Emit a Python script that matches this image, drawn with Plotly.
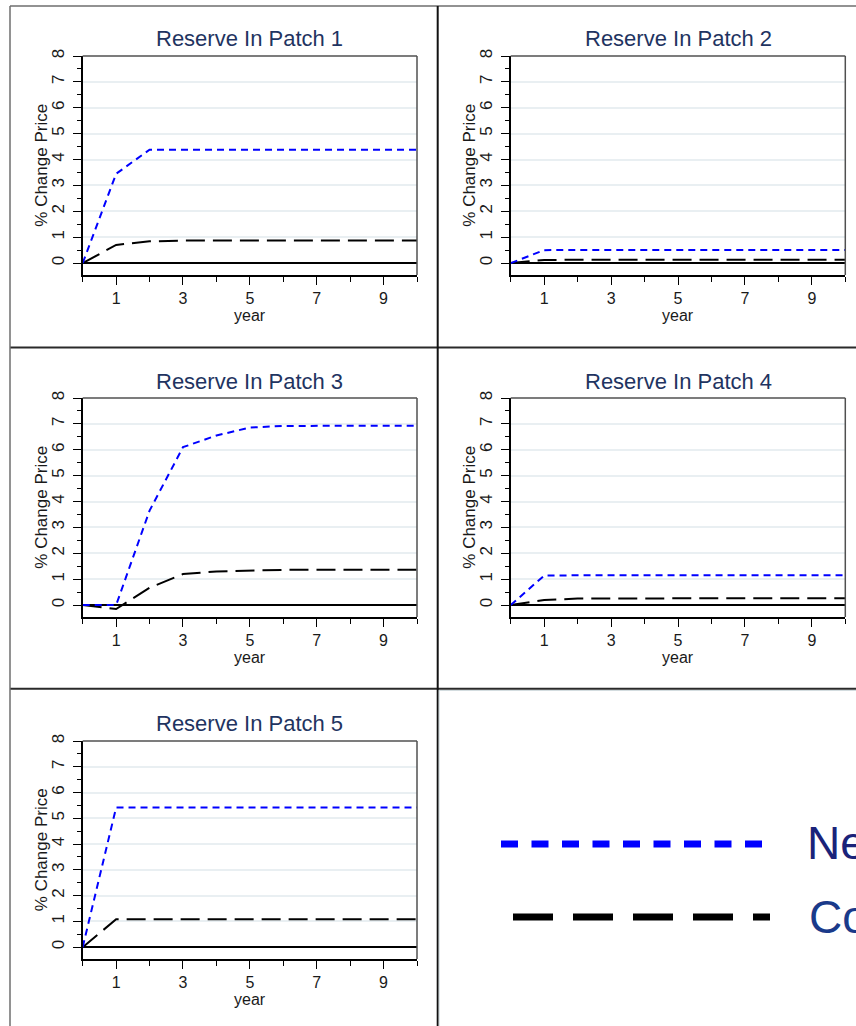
import plotly.graph_objects as go

# ---------------- data ----------------
years = [0, 1, 2, 3, 4, 5, 6, 7, 8, 9, 10]

panel_titles = ["Reserve In Patch 1", "Reserve In Patch 2", "Reserve In Patch 3",
                "Reserve In Patch 4", "Reserve In Patch 5"]

blue_p1 = [0, 3.45, 4.38, 4.38, 4.38, 4.38, 4.38, 4.38, 4.38, 4.38, 4.38]
black_p1 = [0, 0.70, 0.84, 0.87, 0.87, 0.87, 0.87, 0.87, 0.87, 0.87, 0.87]

blue_p2 = [0, 0.50, 0.51, 0.51, 0.51, 0.51, 0.51, 0.51, 0.51, 0.51, 0.51]
black_p2 = [0, 0.12, 0.13, 0.13, 0.13, 0.13, 0.13, 0.13, 0.13, 0.13, 0.13]

blue_p3 = [0, 0.0, 3.65, 6.10, 6.55, 6.86, 6.92, 6.93, 6.93, 6.93, 6.93]
black_p3 = [0, -0.15, 0.67, 1.20, 1.30, 1.34, 1.36, 1.37, 1.37, 1.37, 1.37]

blue_p4 = [0, 1.14, 1.15, 1.15, 1.15, 1.15, 1.15, 1.15, 1.15, 1.15, 1.15]
black_p4 = [0, 0.20, 0.25, 0.26, 0.26, 0.26, 0.26, 0.26, 0.26, 0.26, 0.26]

blue_p5 = [0, 5.42, 5.42, 5.42, 5.42, 5.42, 5.42, 5.42, 5.42, 5.42, 5.42]
black_p5 = [0, 1.08, 1.08, 1.08, 1.08, 1.08, 1.08, 1.08, 1.08, 1.08, 1.08]

blue_series = [blue_p1, blue_p2, blue_p3, blue_p4, blue_p5]
black_series = [black_p1, black_p2, black_p3, black_p4, black_p5]

y_tick_vals = [0, 1, 2, 3, 4, 5, 6, 7, 8]
x_tick_vals = [1, 3, 5, 7, 9]
y_title = "% Change Price"
x_title = "year"
legend_labels = ["Ne", "Co"]

# ---------------- layout helpers ----------------
W, H = 856, 1026
FONT = "Arial, Liberation Sans, sans-serif"
TITLE_COLOR = "#1f3461"
TEXT_COLOR = "#1a1a1a"
BLUE = "#0000ff"


def px(x):
    return x / W


def py(y):
    return 1 - y / H


col_px = [(82.7, 417.0), (510.7, 845.3)]
row_px = [(56.0, 275.0), (398.0, 617.0), (741.0, 959.0)]
title_y_px = [39.0, 381.0, 723.5]
cells = [(0, 0), (0, 1), (1, 0), (1, 1), (2, 0)]

fig = go.Figure()
annotations = []
shapes = []

for i, (r, c) in enumerate(cells):
    n = i + 1
    xa = "x" if n == 1 else f"x{n}"
    ya = "y" if n == 1 else f"y{n}"
    xl = "xaxis" if n == 1 else f"xaxis{n}"
    yl = "yaxis" if n == 1 else f"yaxis{n}"
    x0, x1 = col_px[c]
    y0, y1 = row_px[r]

    fig.add_trace(go.Scatter(x=years, y=black_series[i], mode="lines",
                             line=dict(color="black", width=2, dash="19px,8px"),
                             xaxis=xa, yaxis=ya, showlegend=False))
    fig.add_trace(go.Scatter(x=years, y=blue_series[i], mode="lines",
                             line=dict(color=BLUE, width=2, dash="7px,5px"),
                             xaxis=xa, yaxis=ya, showlegend=False))

    fig.layout[xl] = dict(
        domain=[px(x0), px(x1)], anchor=ya, range=[0, 10], automargin=False,
        tickmode="array", tickvals=x_tick_vals,
        ticks="outside", ticklen=8, tickwidth=1, tickcolor="black",
        ticklabelstandoff=0,
        minor=dict(dtick=1, tick0=0, ticks="outside", ticklen=5, tickcolor="black",
                   showgrid=False),
        showgrid=False, zeroline=False,
        showline=True, linecolor="black", linewidth=1.5,
        tickfont=dict(family=FONT, size=16, color=TEXT_COLOR),
        fixedrange=True,
    )
    fig.layout[yl] = dict(
        domain=[py(y1), py(y0)], anchor=xa, range=[-0.46, 8], automargin=False,
        tickmode="array", tickvals=y_tick_vals, tickangle=-90,
        ticks="outside", ticklen=8, tickwidth=1, tickcolor="black",
        ticklabelstandoff=2,
        minor=dict(dtick=0.5, tick0=0, ticks="outside", ticklen=4, tickcolor="black",
                   showgrid=False),
        showgrid=True, gridcolor="#e9eff2", gridwidth=1.5,
        zeroline=True, zerolinecolor="black", zerolinewidth=2,
        showline=True, linecolor="black", linewidth=1.5,
        tickfont=dict(family=FONT, size=17, color=TEXT_COLOR),
        fixedrange=True,
    )

    # panel title
    annotations.append(dict(text=panel_titles[i], xref="paper", yref="paper",
                            x=px((x0 + x1) / 2), y=py(title_y_px[r]),
                            xanchor="center", yanchor="middle", showarrow=False,
                            font=dict(family=FONT, size=22, color=TITLE_COLOR)))
    # y-axis title
    annotations.append(dict(text=y_title, xref="paper", yref="paper",
                            x=px(x0 - 41.5), y=py((y0 + y1) / 2), textangle=-90,
                            xanchor="center", yanchor="middle", showarrow=False,
                            font=dict(family=FONT, size=17, color=TEXT_COLOR)))
    # x-axis title
    annotations.append(dict(text=x_title, xref="paper", yref="paper",
                            x=px((x0 + x1) / 2), y=py(y1 + 40),
                            xanchor="center", yanchor="middle", showarrow=False,
                            font=dict(family=FONT, size=16, color=TEXT_COLOR)))
    # top & right frame of plot area
    shapes.append(dict(type="line", xref=f"{xa} domain", yref=f"{ya} domain",
                       x0=0, x1=1, y0=1, y1=1, layer="above",
                       line=dict(color="#505050", width=1.5)))
    shapes.append(dict(type="line", xref=f"{xa} domain", yref=f"{ya} domain",
                       x0=1, x1=1, y0=0, y1=1, layer="above",
                       line=dict(color="#505050", width=1.5)))

# panel borders
def hline(y, xa, xb, color, w):
    shapes.append(dict(type="line", xref="paper", yref="paper",
                       x0=px(xa), x1=px(xb), y0=py(y), y1=py(y),
                       line=dict(color=color, width=w)))


def vline(x, ya, yb, color, w):
    shapes.append(dict(type="line", xref="paper", yref="paper",
                       x0=px(x), x1=px(x), y0=py(ya), y1=py(yb),
                       line=dict(color=color, width=w)))

hline(6, 10, 860, "#6e6e6e", 1.5)
hline(347.5, 10, 860, "#2a2a2a", 2)
hline(688.8, 10, 860, "#2a2a2a", 2)
hline(690.5, 438, 860, "#d3dcdf", 1)
vline(10, 6, 1030, "#6e6e6e", 1.5)
vline(437.7, 6, 1030, "#111111", 2)
vline(439.2, 690, 1030, "#d3dcdf", 1)

# legend samples
shapes.append(dict(type="line", xref="paper", yref="paper",
                   x0=px(501), x1=px(762), y0=py(844), y1=py(844),
                   line=dict(color=BLUE, width=7, dash="17px,13.5px")))
shapes.append(dict(type="line", xref="paper", yref="paper",
                   x0=px(513), x1=px(770), y0=py(917), y1=py(917),
                   line=dict(color="black", width=7, dash="40px,20px")))
annotations.append(dict(text=legend_labels[0], xref="paper", yref="paper",
                        x=px(805), y=py(843), xanchor="left", yanchor="middle",
                        showarrow=False,
                        font=dict(family=FONT, size=46, color="#1a237a")))
annotations.append(dict(text=legend_labels[1], xref="paper", yref="paper",
                        x=px(807), y=py(917), xanchor="left", yanchor="middle",
                        showarrow=False,
                        font=dict(family=FONT, size=46, color="#1a3a8a")))

fig.update_layout(
    width=W, height=H, margin=dict(l=0, r=0, t=0, b=0, autoexpand=False),
    paper_bgcolor="white", plot_bgcolor="white",
    showlegend=False, annotations=annotations, shapes=shapes,
    font=dict(family=FONT),
)

fig.write_html("out.html")
